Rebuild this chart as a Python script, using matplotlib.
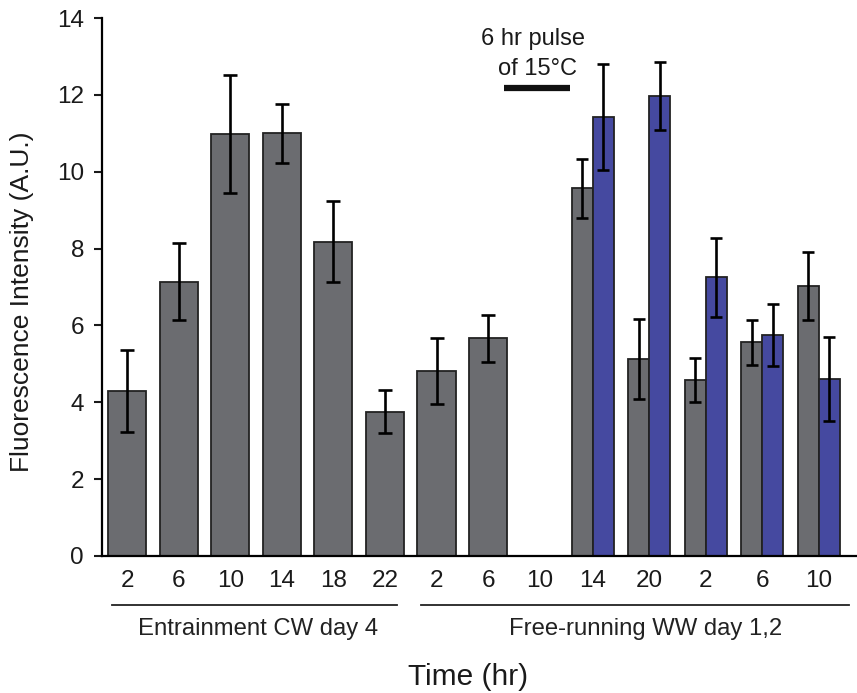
import matplotlib
matplotlib.use("Agg")
import matplotlib.pyplot as plt
import numpy as np

plt.rcParams['font.family'] = ['Liberation Sans', 'DejaVu Sans']

# time points (hr) for each slot
tick_labels = ['2', '6', '10', '14', '18', '22', '2', '6', '10', '14', '20', '2', '6', '10']

# single gray bars (entrainment + first free-running points)
single_vals = [4.29, 7.14, 10.98, 11.0, 8.18, 3.76, 4.82, 5.66]
single_err = [1.06, 1.0, 1.53, 0.77, 1.06, 0.56, 0.86, 0.6]

# paired bars after the pulse: control (gray) and pulsed (blue)
ctrl_vals = [9.57, 5.13, 4.58, 5.56, 7.03]
ctrl_err = [0.77, 1.05, 0.56, 0.58, 0.89]
pulse_vals = [11.42, 11.97, 7.25, 5.75, 4.6]
pulse_err = [1.37, 0.89, 1.03, 0.8, 1.09]

gray = '#6b6c70'
blue = '#4549a0'
edge = '#222222'

# slot positions
pos_single = np.arange(8)
pos_pair = 9.03 + 1.095 * np.arange(5)
pos_ticks = list(np.arange(9)) + list(pos_pair)

fig = plt.figure(figsize=(8.57, 6.93), dpi=100)
ax = fig.add_axes([102 / 857, 137 / 693, 1 - 102 / 857, 538 / 693])

ekw = dict(elinewidth=1.9, capthick=1.9, ecolor='black')
ax.bar(pos_single, single_vals, width=0.74, color=gray, edgecolor=edge, linewidth=1.3,
       yerr=single_err, capsize=4.8, error_kw=ekw, zorder=2)
w = 0.405
ax.bar(pos_pair - w / 2, ctrl_vals, width=w, color=gray, edgecolor=edge, linewidth=1.3,
       yerr=ctrl_err, capsize=4.5, error_kw=ekw, zorder=2)
ax.bar(pos_pair + w / 2, pulse_vals, width=w, color=blue, edgecolor=edge, linewidth=1.3,
       yerr=pulse_err, capsize=4.5, error_kw=ekw, zorder=2)

ax.set_xlim(-0.485, 14.15)
ax.set_ylim(0, 14)
ax.set_yticks(np.arange(0, 15, 2))
ax.tick_params(axis='y', direction='out', length=6, width=1.5, labelsize=17.5, pad=7, colors='#1a1a1a')
ax.set_xticks(pos_ticks)
ax.set_xticklabels(tick_labels)
ax.tick_params(axis='x', length=0, labelsize=17.5, pad=10, colors='#1a1a1a')

for s in ['top', 'right']:
    ax.spines[s].set_visible(False)
ax.spines['left'].set_linewidth(1.6)
ax.spines['bottom'].set_linewidth(1.6)

fig.text(22 / 857, 1 - 302 / 693, 'Fluorescence Intensity (A.U.)', rotation=90,
         ha='center', va='center', fontsize=19, color='#1a1a1a')

# group underlines and labels
tr = ax.get_xaxis_transform()
ax.plot([-0.29, 5.23], [-0.091, -0.091], transform=tr, color='#222222', lw=1.3, clip_on=False)
ax.plot([5.70, 13.99], [-0.091, -0.091], transform=tr, color='#222222', lw=1.3, clip_on=False)
ax.text(2.54, -0.1468, 'Entrainment CW day 4', transform=tr, ha='center', va='baseline',
        fontsize=17.2, color='#222222')
ax.text(10.06, -0.1468, 'Free-running WW day 1,2', transform=tr, ha='center', va='baseline',
        fontsize=17.2, color='#222222')
ax.text(6.61, -0.240, 'Time (hr)', transform=tr, ha='center', va='baseline',
        fontsize=21.5, color='#1a1a1a')

# 6 hr temperature pulse marker
ax.plot([7.31, 8.59], [12.18, 12.18], color='#111111', lw=4.5, solid_capstyle='butt', clip_on=False)
ax.text(7.87, 13.30, '6 hr pulse', ha='center', va='baseline', fontsize=17, color='#1a1a1a')
ax.text(7.95, 12.52, 'of 15\u00b0C', ha='center', va='baseline', fontsize=17, color='#1a1a1a')

fig.savefig('out.png', dpi=100)
